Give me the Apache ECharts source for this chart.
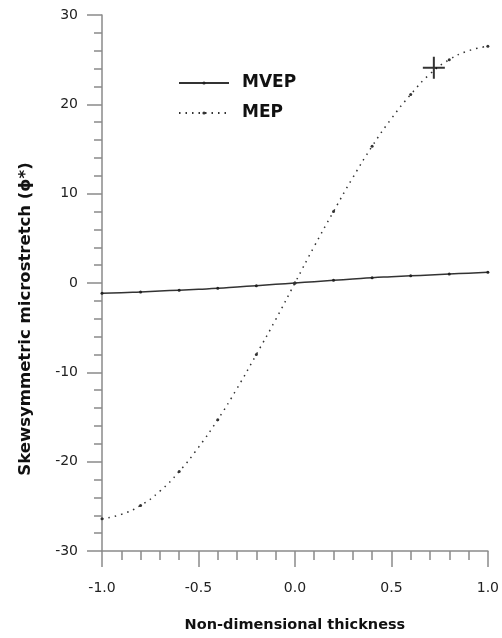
<!DOCTYPE html>
<html>
<head>
<meta charset="utf-8">
<script src="https://cdn.jsdelivr.net/npm/echarts@6/dist/echarts.min.js"></script>
<style>
  html, body { margin: 0; padding: 0; background: #fff; }
  #chart { width: 502px; height: 638px; }
</style>
</head>
<body>
<div id="chart"></div>
<script>
// Thickness coordinate across the plate
const thickness = [-1.0, -0.9, -0.8, -0.7, -0.6, -0.5, -0.4, -0.3, -0.2, -0.1, 0.0,
                   0.1, 0.2, 0.3, 0.4, 0.5, 0.6, 0.7, 0.8, 0.9, 1.0];
// Skewsymmetric microstretch, micropolar viscoelastic plate
const mvep = [-1.15, -1.1, -1.0, -0.9, -0.8, -0.7, -0.6, -0.45, -0.3, -0.15, 0.0,
              0.15, 0.3, 0.45, 0.6, 0.7, 0.8, 0.9, 1.0, 1.1, 1.2];
// Skewsymmetric microstretch, micropolar elastic plate
const mep = [-26.4, -25.9, -24.9, -23.3, -21.1, -18.4, -15.3, -11.8, -8.0, -4.1, 0.0,
             4.1, 8.0, 11.8, 15.3, 18.4, 21.1, 23.4, 25.0, 26.0, 26.5];
// Highlighted point on the MEP curve
const marked = [[0.72, 24.1]];
const xTicks = { min: -1, max: 1, step: 0.5 };
const yTicks = { min: -30, max: 30, step: 10 };

const pair = (xs, ys) => xs.map((x, i) => [x, ys[i]]);
const axisGrey = '#8a8a8a';
const font = '"DejaVu Sans", Verdana, sans-serif';

const chart = echarts.init(document.getElementById('chart'), null, { renderer: 'canvas' });
chart.setOption({
  animation: false,
  backgroundColor: '#ffffff',
  grid: { left: 102, right: 14, top: 15, bottom: 84 },
  legend: {
    left: 178, top: 68, orient: 'vertical', padding: 0,
    itemWidth: 50, itemHeight: 4, itemGap: 0,
    data: ['MVEP', 'MEP'],
    textStyle: { fontFamily: font, fontSize: 17, fontWeight: 'bold', color: '#111',
                 lineHeight: 30, padding: [0, 0, 0, 8] }
  },
  xAxis: {
    type: 'value', min: xTicks.min, max: xTicks.max, interval: xTicks.step,
    splitLine: { show: false },
    axisLine: { onZero: false, lineStyle: { color: axisGrey, width: 1.5 } },
    axisTick: { length: 16, lineStyle: { color: axisGrey, width: 1.5 } },
    minorTick: { show: true, splitNumber: 5, length: 9, lineStyle: { color: axisGrey, width: 1.5 } },
    axisLabel: { margin: 30, fontFamily: font, fontSize: 14, color: '#222',
                 formatter: v => v.toFixed(1) },
    name: 'Non-dimensional thickness', nameLocation: 'middle', nameGap: 67,
    nameTextStyle: { fontFamily: font, fontSize: 14.5, fontWeight: 'bold', color: '#111' }
  },
  yAxis: {
    type: 'value', min: yTicks.min, max: yTicks.max, interval: yTicks.step,
    splitLine: { show: false },
    axisLine: { onZero: false, lineStyle: { color: axisGrey, width: 1.5 } },
    axisTick: { length: 15, lineStyle: { color: axisGrey, width: 1.5 } },
    minorTick: { show: true, splitNumber: 5, length: 8, lineStyle: { color: axisGrey, width: 1.5 } },
    axisLabel: { margin: 24, fontFamily: font, fontSize: 14, color: '#222' },
    name: 'Skewsymmetric microstretch (\u03D5*)', nameLocation: 'middle', nameGap: 68,
    nameTextStyle: { fontFamily: font, fontSize: 16.5, fontWeight: 'bold', color: '#111',
                     padding: [0, 72, 0, 0] }
  },
  series: [
    {
      name: 'MVEP', type: 'line', smooth: true,
      data: pair(thickness, mvep),
      symbol: 'circle',
      symbolSize: (v, p) => (p.dataIndex % 2 === 0 ? 3 : 0),
      itemStyle: { color: '#222' },
      lineStyle: { color: '#333', width: 1.5 }
    },
    {
      name: 'MEP', type: 'line', smooth: true,
      data: pair(thickness, mep),
      symbol: 'circle',
      symbolSize: (v, p) => (p.dataIndex % 2 === 0 ? 3 : 0),
      itemStyle: { color: '#333' },
      lineStyle: { color: '#333', width: 1.5, type: [1.5, 5] }
    },
    {
      name: 'marker', type: 'scatter',
      data: marked,
      symbol: 'path://M10,0h2v22h-2z M0,10h22v2h-22z',
      symbolSize: 22,
      itemStyle: { color: '#000' },
      z: 5
    }
  ]
});
</script>
</body>
</html>
